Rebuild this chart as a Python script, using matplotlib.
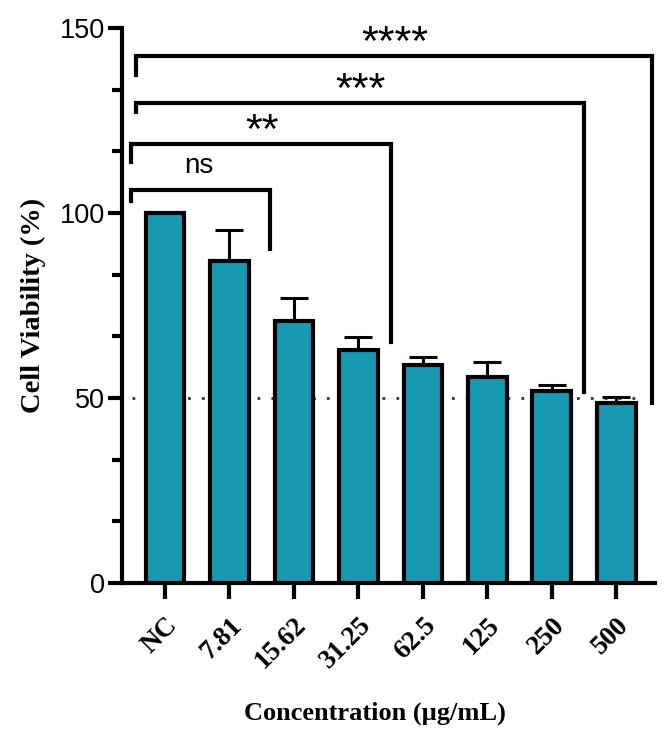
import numpy as np
import matplotlib.pyplot as plt
from matplotlib.transforms import ScaledTranslation

# data
labels = ["NC", "7.81", "15.62", "31.25", "62.5", "125", "250", "500"]
viability = [100.0, 86.9, 70.9, 62.9, 58.8, 55.7, 51.8, 48.6]
err_up = [0.0, 8.6, 6.1, 3.6, 2.4, 3.9, 1.8, 1.6]

# significance brackets: (left x, right x, top y, left drop y, right drop y, text, text x)
brackets = [
    (-0.53, 1.63, 106.1, 103.2, 90.4, "ns", 0.53),
    (-0.53, 3.5, 118.6, 113.9, 65.1, "**", 1.51),
    (-0.45, 6.5, 129.7, 127.3, 51.6, "***", 3.03),
    (-0.45, 7.56, 142.4, 137.3, 48.7, "****", 3.56),
]

serif = ["Liberation Serif", "DejaVu Serif"]
sans = ["Liberation Sans", "DejaVu Sans"]

fig = plt.figure(figsize=(6.69, 7.31), dpi=100)
ax = fig.add_axes([0.182, 0.2025, 0.797, 0.7592])

x = np.arange(len(labels))
ax.bar(x, viability, width=0.6, color="#1898b1", edgecolor="black",
       linewidth=3, zorder=3)
ax.errorbar(x, viability, yerr=[np.zeros(len(x)), err_up], fmt="none",
            ecolor="black", elinewidth=2.2, capsize=10, capthick=2.2, zorder=2)

ax.axhline(50, xmin=0.02, xmax=0.97, color="#333333", linestyle=(0, (1, 4)),
           linewidth=2, zorder=1)

for x0, x1, ytop, yl, yr, txt, tx in brackets:
    ax.plot([x0, x0, x1, x1], [yl, ytop, ytop, yr], color="black",
            linewidth=3, solid_joinstyle="miter", clip_on=False, zorder=4)
    if txt == "ns":
        ax.text(tx, ytop + 4.6, txt, ha="center", va="baseline", fontsize=20,
                family=sans)
    else:
        ax.text(tx, ytop + 0.4, txt, ha="center", va="baseline", fontsize=31,
                family=sans)

ax.set_xlim(-0.67, 7.6)
ax.set_ylim(0, 150)
ax.set_yticks([0, 50, 100, 150])
ax.set_yticks(np.arange(0, 150, 50 / 3), minor=True)
ax.set_xticks(x)
ax.set_xticklabels(labels, rotation=45, ha="right", rotation_mode="anchor",
                   fontsize=19.5, fontweight="bold", family=serif)
shift = ScaledTranslation(-5 / 72, -2 / 72, fig.dpi_scale_trans)
for t in ax.get_xticklabels():
    t.set_transform(t.get_transform() + shift)
for t in ax.get_yticklabels():
    t.set_family(sans)
    t.set_fontsize(19.5)

ax.spines["top"].set_visible(False)
ax.spines["right"].set_visible(False)
ax.spines["left"].set_linewidth(3)
ax.spines["bottom"].set_linewidth(3)
ax.tick_params(axis="y", which="major", length=10, width=3, pad=2)
ax.tick_params(axis="y", which="minor", length=7, width=3)
ax.tick_params(axis="x", length=11.5, width=3, pad=10)

ax.set_ylabel("Cell Viability (%)", fontsize=20.5, fontweight="bold",
              family=serif, labelpad=10)
ax.set_xlabel("Concentration (µg/mL)", fontsize=19, fontweight="bold",
              family=serif)
ax.xaxis.set_label_coords(0.475, -0.213)

fig.savefig("out.png", dpi=100)
